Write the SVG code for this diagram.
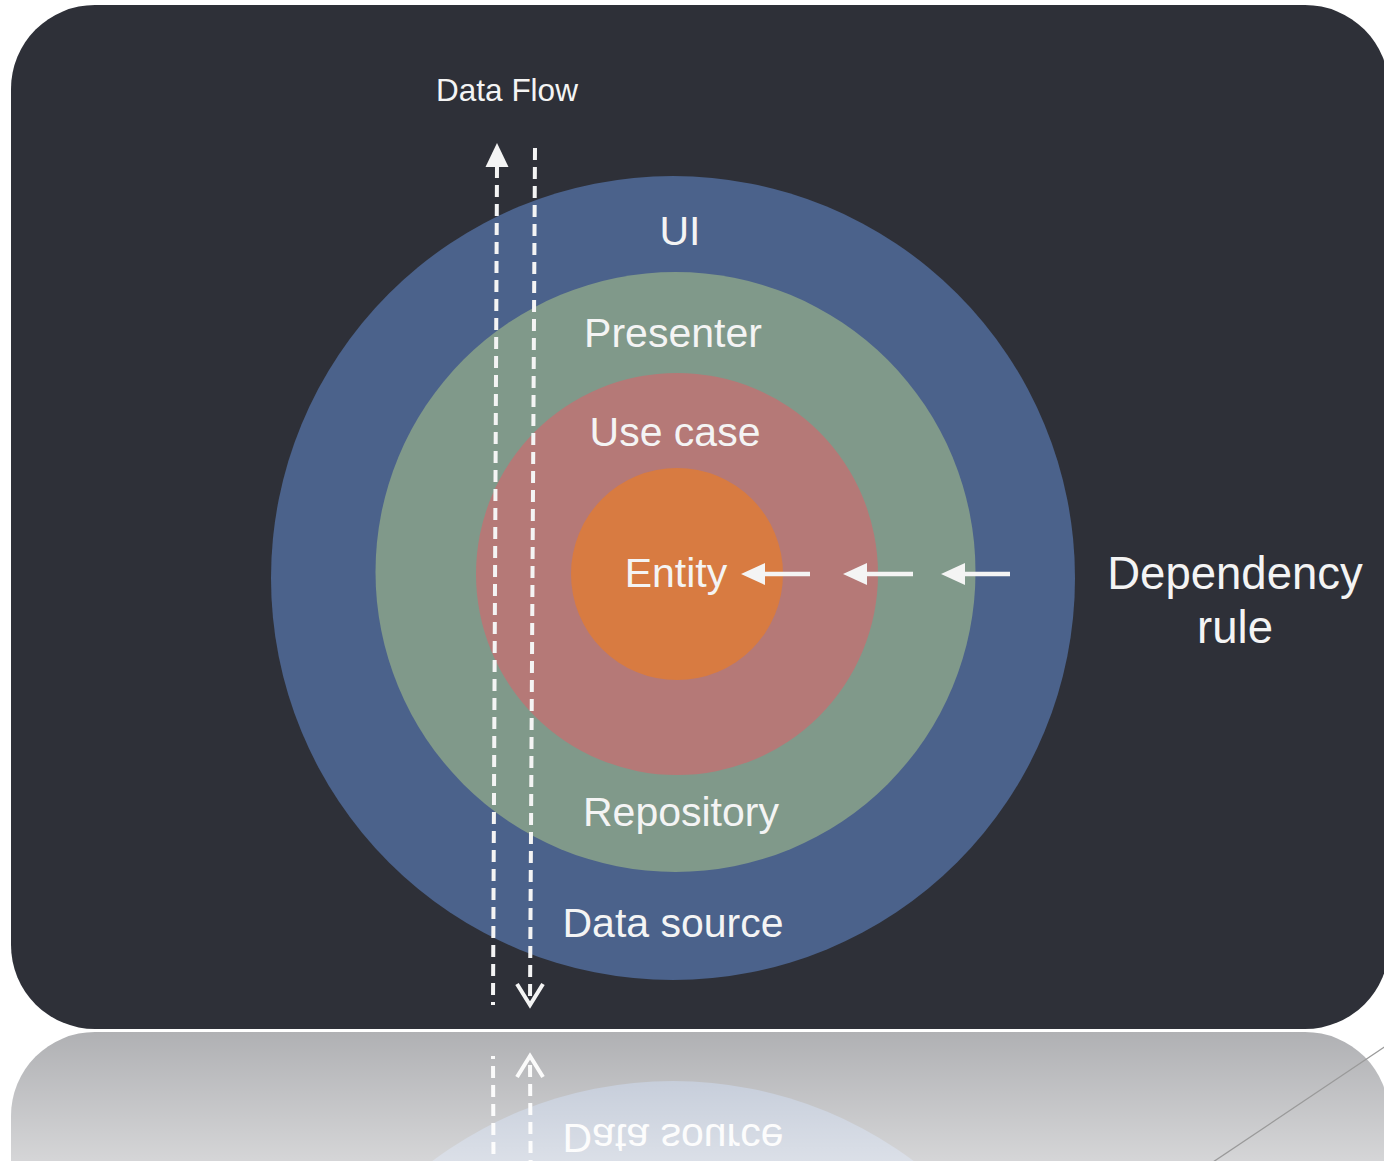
<svg xmlns="http://www.w3.org/2000/svg" xmlns:xlink="http://www.w3.org/1999/xlink" width="1384" height="1161" viewBox="0 0 1384 1161">
  <style>
    .lbl { font-family: "Liberation Sans", Arial, Helvetica, sans-serif; fill: #f4f4f4; text-anchor: middle; }
    .ring { font-size: 41px; }
    .dash { stroke: #f4f4f4; stroke-width: 4; stroke-dasharray: 12 7; fill: none; }
    .dep { stroke: #f4f4f4; stroke-width: 4.5; fill: none; }
    .head { fill: #f4f4f4; }
  </style>
  <defs>
    <linearGradient id="fade" x1="0" y1="1031" x2="0" y2="1161" gradientUnits="userSpaceOnUse">
      <stop offset="0" stop-color="#ffffff" stop-opacity="0.62"/>
      <stop offset="1" stop-color="#ffffff" stop-opacity="0.8"/>
    </linearGradient>
    <clipPath id="reflClip">
      <rect x="0" y="1031" width="1384" height="130"/>
    </clipPath>
  </defs>
  <rect width="1384" height="1161" fill="#ffffff"/>
  <g id="scene">
    <rect id="panel" x="11" y="5" width="1378" height="1024" rx="84" ry="84" fill="#2e3038"/>
    <g id="node-ui">
      <circle cx="673" cy="578" r="402" fill="#4b628b"/>
      <text class="lbl ring" x="680" y="245">UI</text>
    </g>
    <g id="node-presenter">
      <circle cx="675.5" cy="572" r="300" fill="#80998a"/>
      <text class="lbl ring" x="673" y="347">Presenter</text>
    </g>
    <g id="node-repository">
      <text class="lbl ring" x="681" y="826">Repository</text>
    </g>
    <g id="node-datasource">
      <text class="lbl ring" x="673" y="937">Data source</text>
    </g>
    <g id="node-usecase">
      <circle cx="677" cy="574" r="201" fill="#b57977"/>
      <text class="lbl ring" x="675" y="446">Use case</text>
    </g>
    <g id="node-entity">
      <circle cx="677" cy="574" r="106" fill="#d87b41"/>
      <text class="lbl ring" x="676" y="587">Entity</text>
    </g>
    <g id="connectors">
      <line class="dash" x1="497" y1="166" x2="493" y2="1005"/>
      <polygon class="head" points="497,143 485.5,167 508.5,167"/>
      <line class="dash" x1="535" y1="148" x2="530" y2="1003"/>
      <polyline points="517,984 530,1005 543,984" fill="none" stroke="#f4f4f4" stroke-width="4" stroke-linejoin="miter"/>
      <line class="dep" x1="760" y1="574" x2="810" y2="574"/>
      <polygon class="head" points="741,574 765,563 765,585"/>
      <line class="dep" x1="862" y1="574" x2="913" y2="574"/>
      <polygon class="head" points="843,574 867,563 867,585"/>
      <line class="dep" x1="960" y1="574" x2="1010" y2="574"/>
      <polygon class="head" points="941,574 965,563 965,585"/>
    </g>
    <g id="label-dataflow">
      <text class="lbl" x="507" y="101" font-size="31.5">Data Flow</text>
    </g>
    <g id="label-dependency">
      <text class="lbl" x="1235" y="589" font-size="45.5">Dependency</text>
      <text class="lbl" x="1235" y="643" font-size="45.5">rule</text>
    </g>
  </g>
  <g id="reflection" clip-path="url(#reflClip)">
    <use xlink:href="#scene" href="#scene" transform="matrix(1,0,0,-1,0,2061)"/>
    <rect x="0" y="1031" width="1384" height="130" fill="url(#fade)"/>
  </g>
  <line id="slide-line" x1="1386" y1="1046" x2="1213" y2="1162" stroke="#9a9a9a" stroke-width="1.3"/>
</svg>
